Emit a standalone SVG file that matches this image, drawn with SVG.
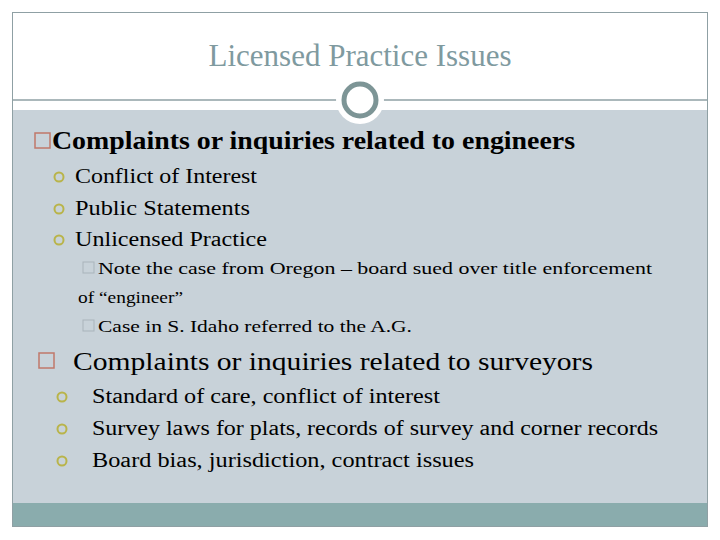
<svg xmlns="http://www.w3.org/2000/svg" width="720" height="540" viewBox="0 0 720 540">
<style>
.t{fill:#7f9a9f;font-size:31px}
.h1{font-size:25px;font-weight:bold}
.h2{font-size:25px}
.s{font-size:20px}
.ss{font-size:17px}
.sq{fill:none;stroke:#c0786a;stroke-width:1.5}
.sq2{fill:none;stroke:#a9b4bb;stroke-width:1}
.dot{fill:none;stroke:#b9b44a;stroke-width:2}
</style>
<rect width="720" height="540" fill="#fff"/>
<rect x="12.5" y="12.5" width="695" height="514" fill="#fff" stroke="#8fa0a4"/>
<rect x="13" y="110" width="694" height="393" fill="#c8d2d9"/>
<rect x="13" y="503" width="694" height="23" fill="#8aacad"/>
<line x1="13" y1="100" x2="707" y2="100" stroke="#8fa0a4" stroke-width="1.5"/>
<circle cx="360" cy="100" r="24" fill="#fff"/>
<circle cx="360" cy="100" r="16" fill="#fff" stroke="#7d9596" stroke-width="5"/>
<rect class="sq" x="35" y="133" width="15" height="15"/>
<circle class="dot" cx="59" cy="177" r="4.5"/>
<circle class="dot" cx="59" cy="209" r="4.5"/>
<circle class="dot" cx="59" cy="240" r="4.5"/>
<rect class="sq2" x="83" y="262" width="11" height="11"/>
<rect class="sq2" x="83" y="320" width="11" height="11"/>
<rect class="sq" x="39" y="353" width="15" height="15"/>
<circle class="dot" cx="62" cy="397" r="4.5"/>
<circle class="dot" cx="62" cy="429" r="4.5"/>
<circle class="dot" cx="62" cy="461" r="4.5"/>
<g font-family="Liberation Serif, DejaVu Serif, serif" fill="#000">
<text class="t" x="360" y="66" text-anchor="middle">Licensed Practice Issues</text>
<text class="h1" x="52" y="149" textLength="523" lengthAdjust="spacingAndGlyphs">Complaints or inquiries related to engineers</text>
<text class="s" x="75" y="183" textLength="182" lengthAdjust="spacingAndGlyphs">Conflict of Interest</text>
<text class="s" x="75" y="215" textLength="175" lengthAdjust="spacingAndGlyphs">Public Statements</text>
<text class="s" x="75" y="246" textLength="192" lengthAdjust="spacingAndGlyphs">Unlicensed Practice</text>
<text class="ss" x="98" y="274" textLength="554" lengthAdjust="spacingAndGlyphs">Note the case from Oregon – board sued over title enforcement</text>
<text class="ss" x="78" y="303" textLength="105" lengthAdjust="spacingAndGlyphs">of “engineer”</text>
<text class="ss" x="98" y="332" textLength="314" lengthAdjust="spacingAndGlyphs">Case in S. Idaho referred to the A.G.</text>
<text class="h2" x="73" y="370" textLength="520" lengthAdjust="spacingAndGlyphs">Complaints or inquiries related to surveyors</text>
<text class="s" x="92" y="403" textLength="348" lengthAdjust="spacingAndGlyphs">Standard of care, conflict of interest</text>
<text class="s" x="92" y="435" textLength="566" lengthAdjust="spacingAndGlyphs">Survey laws for plats, records of survey and corner records</text>
<text class="s" x="92" y="467" textLength="382" lengthAdjust="spacingAndGlyphs">Board bias, jurisdiction, contract issues</text>
</g>
</svg>
